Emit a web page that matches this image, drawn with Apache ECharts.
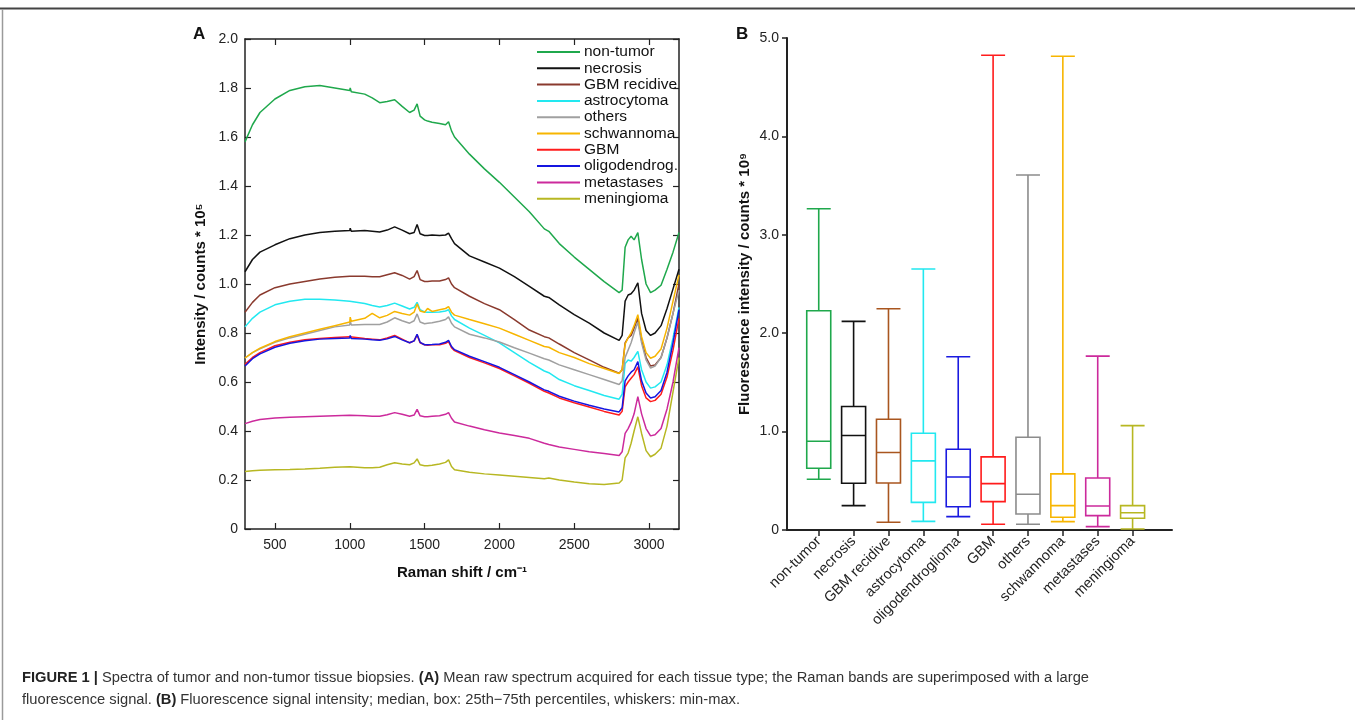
<!DOCTYPE html>
<html>
<head>
<meta charset="utf-8">
<script src="https://cdn.jsdelivr.net/npm/echarts@6/dist/echarts.min.js"></script>
<style>
  html, body { margin: 0; background: #fff; }
  #chart { width: 1355px; height: 720px; }
</style>
</head>
<body>
<div id="chart"></div>
<script>
// panel A - mean raw spectra
var ramanShift = [300, 350, 400, 500, 600, 700, 800, 900, 1000, 1003, 1010, 1100, 1150, 1200, 1250, 1300, 1350, 1400, 1430, 1450,
  1470, 1500, 1520, 1550, 1600, 1640, 1660, 1680, 1700, 1800, 1900, 2000, 2100, 2200, 2300, 2330, 2400, 2500, 2600, 2700,
  2800, 2820, 2840, 2860, 2880, 2900, 2925, 2950, 2980, 3010, 3040, 3080, 3120, 3160, 3200];

var nonTumor = [1.58, 1.65, 1.70, 1.755, 1.79, 1.805, 1.81, 1.80, 1.79, 1.80, 1.785, 1.775, 1.76, 1.74, 1.745, 1.752, 1.725, 1.70, 1.71, 1.735,
  1.685, 1.67, 1.665, 1.66, 1.655, 1.65, 1.662, 1.625, 1.60, 1.53, 1.47, 1.415, 1.355, 1.295, 1.225, 1.215, 1.165, 1.11, 1.06, 1.01,
  0.965, 0.975, 1.15, 1.18, 1.195, 1.18, 1.21, 1.10, 1.00, 0.965, 0.975, 0.995, 1.06, 1.13, 1.21];
var necrosis = [1.05, 1.10, 1.13, 1.16, 1.185, 1.20, 1.21, 1.215, 1.218, 1.228, 1.215, 1.218, 1.215, 1.212, 1.22, 1.233, 1.22, 1.205, 1.21, 1.243,
  1.205, 1.198, 1.198, 1.20, 1.198, 1.20, 1.208, 1.185, 1.165, 1.115, 1.09, 1.065, 1.03, 0.99, 0.95, 0.945, 0.915, 0.875, 0.84, 0.80,
  0.77, 0.79, 0.93, 0.955, 0.96, 0.975, 1.005, 0.88, 0.81, 0.79, 0.80, 0.83, 0.90, 0.98, 1.06];
var gbmRecidive = [0.885, 0.925, 0.955, 0.985, 1.00, 1.01, 1.02, 1.028, 1.032, 1.04, 1.03, 1.032, 1.03, 1.03, 1.038, 1.046, 1.035, 1.02, 1.03, 1.055,
  1.018, 1.01, 1.01, 1.012, 1.012, 1.018, 1.025, 1.0, 0.985, 0.95, 0.92, 0.895, 0.855, 0.812, 0.785, 0.78, 0.755, 0.72, 0.69, 0.66,
  0.636, 0.65, 0.76, 0.78, 0.79, 0.82, 0.86, 0.77, 0.70, 0.665, 0.67, 0.70, 0.78, 0.88, 1.0];
var astrocytoma = [0.825, 0.86, 0.885, 0.915, 0.93, 0.938, 0.938, 0.935, 0.93, 0.935, 0.925, 0.92, 0.912, 0.906, 0.912, 0.922, 0.91, 0.898, 0.905, 0.925,
  0.895, 0.886, 0.885, 0.885, 0.886, 0.89, 0.895, 0.87, 0.855, 0.82, 0.79, 0.76, 0.72, 0.68, 0.645, 0.638, 0.61, 0.585, 0.565, 0.545,
  0.53, 0.55, 0.675, 0.69, 0.685, 0.70, 0.725, 0.65, 0.60, 0.575, 0.58, 0.60, 0.67, 0.78, 0.905];
var others = [0.698, 0.72, 0.735, 0.762, 0.78, 0.795, 0.81, 0.825, 0.833, 0.85, 0.833, 0.835, 0.835, 0.835, 0.845, 0.862, 0.85, 0.84, 0.85, 0.878,
  0.845, 0.838, 0.84, 0.842, 0.848, 0.855, 0.866, 0.84, 0.825, 0.795, 0.78, 0.763, 0.74, 0.718, 0.695, 0.69, 0.67, 0.65, 0.63, 0.61,
  0.59, 0.605, 0.70, 0.73, 0.76, 0.80, 0.845, 0.76, 0.69, 0.657, 0.665, 0.70, 0.78, 0.88, 0.975];
var schwannoma = [0.698, 0.72, 0.738, 0.765, 0.785, 0.80, 0.815, 0.83, 0.845, 0.865, 0.848, 0.86, 0.88, 0.862, 0.872, 0.888, 0.88, 0.873, 0.885, 0.918,
  0.89, 0.885, 0.90, 0.888, 0.895, 0.90, 0.908, 0.885, 0.873, 0.855, 0.838, 0.82, 0.795, 0.77, 0.745, 0.742, 0.72, 0.70, 0.675, 0.655,
  0.635, 0.65, 0.755, 0.78, 0.80, 0.83, 0.875, 0.785, 0.72, 0.697, 0.705, 0.735, 0.82, 0.93, 1.037];
var gbm = [0.672, 0.70, 0.72, 0.748, 0.762, 0.772, 0.778, 0.782, 0.785, 0.792, 0.782, 0.778, 0.775, 0.772, 0.78, 0.79, 0.775, 0.76, 0.768, 0.792,
  0.76, 0.752, 0.75, 0.752, 0.752, 0.758, 0.765, 0.74, 0.728, 0.70, 0.678, 0.655, 0.625, 0.595, 0.562, 0.555, 0.535, 0.515, 0.498, 0.48,
  0.465, 0.48, 0.58, 0.60, 0.615, 0.63, 0.662, 0.585, 0.535, 0.52, 0.525, 0.55, 0.62, 0.73, 0.86];
var oligodendrog = [0.665, 0.695, 0.715, 0.742, 0.758, 0.768, 0.775, 0.778, 0.78, 0.79, 0.778, 0.775, 0.772, 0.77, 0.776, 0.786, 0.772, 0.76, 0.768, 0.795,
  0.762, 0.752, 0.752, 0.753, 0.755, 0.762, 0.77, 0.745, 0.732, 0.705, 0.683, 0.66, 0.63, 0.60, 0.568, 0.562, 0.542, 0.522, 0.505, 0.49,
  0.478, 0.495, 0.605, 0.625, 0.64, 0.65, 0.683, 0.605, 0.555, 0.535, 0.54, 0.565, 0.64, 0.76, 0.895];
var metastases = [0.43, 0.44, 0.447, 0.453, 0.456, 0.458, 0.46, 0.462, 0.464, 0.472, 0.462, 0.462, 0.46, 0.46, 0.466, 0.475, 0.468, 0.46, 0.465, 0.488,
  0.462, 0.458, 0.458, 0.46, 0.462, 0.468, 0.475, 0.452, 0.437, 0.42, 0.405, 0.392, 0.382, 0.37, 0.35, 0.345, 0.335, 0.325, 0.315, 0.308,
  0.30, 0.315, 0.39, 0.41, 0.435, 0.47, 0.54, 0.47, 0.41, 0.38, 0.385, 0.41, 0.49, 0.60, 0.74];
var meningioma = [0.235, 0.238, 0.24, 0.242, 0.243, 0.245, 0.248, 0.252, 0.254, 0.262, 0.252, 0.25, 0.25, 0.252, 0.262, 0.27, 0.265, 0.262, 0.27, 0.286,
  0.262, 0.258, 0.258, 0.26, 0.265, 0.272, 0.282, 0.255, 0.242, 0.232, 0.225, 0.22, 0.215, 0.21, 0.205, 0.208, 0.2, 0.192, 0.185, 0.182,
  0.188, 0.2, 0.29, 0.31, 0.35, 0.40, 0.458, 0.39, 0.32, 0.295, 0.305, 0.33, 0.42, 0.56, 0.70];

var spectraNames = ['non-tumor', 'necrosis', 'GBM recidive', 'astrocytoma', 'others', 'schwannoma', 'GBM', 'oligodendrog.', 'metastases', 'meningioma'];
var spectraValues = [nonTumor, necrosis, gbmRecidive, astrocytoma, others, schwannoma, gbm, oligodendrog, metastases, meningioma];
var spectraColors = ['#1fa84c', '#111111', '#8a3a2e', '#22e8f0', '#a0a0a0', '#f7b500', '#ff1c1c', '#1515e0', '#cc2a9c', '#b7b722'];
var ramanTicks = [500, 1000, 1500, 2000, 2500, 3000];

// panel B - fluorescence intensity, min / Q1 / median / Q3 / max
var tissueTypes = ['non-tumor', 'necrosis', 'GBM recidive', 'astrocytoma', 'oligodendroglioma', 'GBM', 'others', 'schwannoma', 'metastases', 'meningioma'];
var boxMin = [0.515, 0.248, 0.078, 0.088, 0.136, 0.058, 0.058, 0.085, 0.034, 0.01];
var boxQ1 = [0.627, 0.475, 0.478, 0.281, 0.237, 0.288, 0.163, 0.129, 0.146, 0.119];
var boxMedian = [0.902, 0.96, 0.787, 0.702, 0.539, 0.471, 0.363, 0.248, 0.244, 0.176];
var boxQ3 = [2.228, 1.255, 1.126, 0.983, 0.821, 0.743, 0.943, 0.57, 0.529, 0.248];
var boxMax = [3.265, 2.12, 2.248, 2.652, 1.76, 4.825, 3.608, 4.815, 1.767, 1.061];
var boxColors = ['#1fa84c', '#111111', '#a9561f', '#22e8f0', '#1a1ae0', '#ff1c1c', '#8c8c8c', '#f7b500', '#cc2a9c', '#b7b722'];
var boxPositions = [0, 1, 2, 3, 4, 5, 6, 7, 8, 9];

var FONT = 'Liberation Sans';

function numLabel(v) {
  return v === 0 ? '0' : v.toFixed(1);
}

var chart = echarts.init(document.getElementById('chart'));

var series = spectraNames.map(function (name, i) {
  return {
    name: name,
    type: 'line',
    xAxisIndex: 0,
    yAxisIndex: 0,
    showSymbol: false,
    animation: false,
    lineStyle: { width: 1.5, color: spectraColors[i] },
    itemStyle: { color: spectraColors[i] },
    data: ramanShift.map(function (x, k) { return [x, spectraValues[i][k]]; })
  };
});

series.push({
  type: 'boxplot',
  xAxisIndex: 2,
  yAxisIndex: 2,
  boxWidth: [24, 24],
  animation: false,
  itemStyle: { color: 'rgba(0,0,0,0)', borderWidth: 1.6 },
  data: tissueTypes.map(function (t, i) {
    return {
      name: t,
      value: [boxPositions[i], boxMin[i], boxQ1[i], boxMedian[i], boxQ3[i], boxMax[i]],
      itemStyle: { borderColor: boxColors[i], color: 'rgba(0,0,0,0)' }
    };
  })
});

var axisLineA = { show: true, onZero: false, lineStyle: { color: '#222', width: 1.5 } };
var tickA = { show: true, inside: true, length: 6, lineStyle: { color: '#222', width: 1.2 } };
var captionRich = { b: { fontWeight: 'bold', fontFamily: FONT, fontSize: 14.7, fill: '#222' } };

chart.setOption({
  backgroundColor: '#fff',
  textStyle: { fontFamily: FONT },
  grid: [
    { left: 245, top: 39, width: 434, height: 490 },
    { left: 787, top: 38, width: 385, height: 492 }
  ],
  legend: {
    data: spectraNames,
    orient: 'vertical',
    left: 537,
    top: 44,
    icon: 'rect',
    itemWidth: 43,
    itemHeight: 2,
    itemGap: 0.3,
    padding: 0,
    textStyle: { fontFamily: FONT, fontSize: 15.5, color: '#111', lineHeight: 16, padding: [0, 0, 0, -1] }
  },
  xAxis: [
    {
      type: 'value', gridIndex: 0, min: 300, max: 3200, position: 'bottom',
      name: 'Raman shift / cm⁻¹', nameLocation: 'middle', nameGap: 36,
      nameTextStyle: { fontFamily: FONT, fontSize: 15, fontWeight: 'bold', color: '#111' },
      axisLine: axisLineA,
      axisTick: Object.assign({ customValues: ramanTicks }, tickA),
      axisLabel: { customValues: ramanTicks, fontSize: 14, color: '#222', margin: 9, formatter: function (v) { return String(v); } },
      splitLine: { show: false }
    },
    {
      type: 'value', gridIndex: 0, min: 300, max: 3200, position: 'top',
      axisLine: axisLineA,
      axisTick: Object.assign({ customValues: ramanTicks }, tickA),
      axisLabel: { show: false },
      splitLine: { show: false }
    },
    {
      type: 'value', gridIndex: 1, min: -0.91, max: 10.13,
      axisLine: { show: true, onZero: false, lineStyle: { color: '#222', width: 2 } },
      axisTick: { show: true, length: 6, customValues: boxPositions, lineStyle: { color: '#222', width: 1.5 } },
      axisLabel: {
        customValues: boxPositions,
        rotate: 45, fontSize: 14.5, color: '#222', margin: 9,
        formatter: function (v) { return tissueTypes[Math.round(v)] || ''; }
      },
      splitLine: { show: false }
    }
  ],
  yAxis: [
    {
      type: 'value', gridIndex: 0, min: 0, max: 2, interval: 0.2, position: 'left',
      name: 'Intensity / counts * 10⁵', nameLocation: 'middle', nameGap: 37,
      nameTextStyle: { fontFamily: FONT, fontSize: 15, fontWeight: 'bold', color: '#111' },
      axisLine: axisLineA,
      axisTick: tickA,
      axisLabel: { fontSize: 14, color: '#222', margin: 7, formatter: numLabel },
      splitLine: { show: false }
    },
    {
      type: 'value', gridIndex: 0, min: 0, max: 2, interval: 0.2, position: 'right',
      axisLine: axisLineA,
      axisTick: tickA,
      axisLabel: { show: false },
      splitLine: { show: false }
    },
    {
      type: 'value', gridIndex: 1, min: 0, max: 5, interval: 1, position: 'left',
      name: 'Fluorescence intensity / counts * 10⁹', nameLocation: 'middle', nameGap: 35,
      nameTextStyle: { fontFamily: FONT, fontSize: 15, fontWeight: 'bold', color: '#111' },
      axisLine: { show: true, onZero: false, lineStyle: { color: '#222', width: 2 } },
      axisTick: { show: true, length: 5, lineStyle: { color: '#222', width: 1.5 } },
      axisLabel: { fontSize: 14, color: '#222', margin: 8, formatter: numLabel },
      splitLine: { show: false }
    }
  ],
  graphic: [
    { type: 'line', shape: { x1: 0, y1: 8.5, x2: 1355, y2: 8.5 }, style: { stroke: '#444', lineWidth: 2 } },
    { type: 'line', shape: { x1: 2.5, y1: 9, x2: 2.5, y2: 720 }, style: { stroke: '#9a9a9a', lineWidth: 1.5 } },
    { type: 'text', left: 193, top: 26, style: { text: 'A', font: 'bold 17px ' + FONT, fill: '#111' } },
    { type: 'text', left: 736, top: 26, style: { text: 'B', font: 'bold 17px ' + FONT, fill: '#111' } },
    {
      type: 'text', left: 22, top: 670,
      style: {
        text: '{b|FIGURE 1 |} Spectra of tumor and non-tumor tissue biopsies. {b|(A)} Mean raw spectrum acquired for each tissue type; the Raman bands are superimposed with a large',
        font: '14.7px ' + FONT, fill: '#333', rich: captionRich
      }
    },
    {
      type: 'text', left: 22, top: 692,
      style: {
        text: 'fluorescence signal. {b|(B)} Fluorescence signal intensity; median, box: 25th\u221275th percentiles, whiskers: min-max.',
        font: '14.7px ' + FONT, fill: '#333', rich: captionRich
      }
    }
  ],
  series: series
});
</script>
</body>
</html>
